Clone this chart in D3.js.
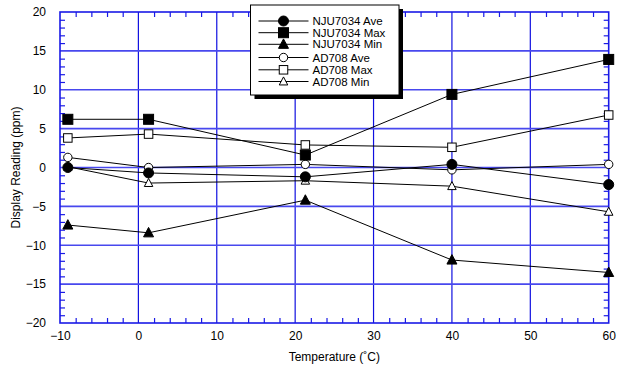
<!DOCTYPE html>
<html><head><meta charset="utf-8">
<script src="https://cdn.jsdelivr.net/npm/d3@7"></script>
<style>body{margin:0;background:#fff}svg{display:block}text{font-family:"Liberation Sans",Arial,sans-serif}</style>
</head><body><svg id="c" width="618" height="367"></svg>
<script>
const temps = [-9, 1.3, 21.3, 40, 60];
const njuAve = [0.0, -0.7, -1.2, 0.4, -2.2];
const njuMax = [6.2, 6.2, 1.6, 9.4, 13.9];
const njuMin = [-7.4, -8.4, -4.2, -11.9, -13.5];
const adAve = [1.3, 0.0, 0.4, -0.3, 0.4];
const adMax = [3.8, 4.3, 2.9, 2.6, 6.75];
const adMin = [0.1, -2.0, -1.7, -2.4, -5.7];
const seriesNames = ["NJU7034 Ave","NJU7034 Max","NJU7034 Min","AD708 Ave","AD708 Max","AD708 Min"];
const xTicks = [-10,0,10,20,30,40,50,60];
const yTicks = [-20,-15,-10,-5,0,5,10,15,20];

const series = [
  {name: seriesNames[0], vals: njuAve, shape: "circle", fill: true},
  {name: seriesNames[1], vals: njuMax, shape: "square", fill: true},
  {name: seriesNames[2], vals: njuMin, shape: "triangle", fill: true},
  {name: seriesNames[3], vals: adAve, shape: "circle", fill: false},
  {name: seriesNames[4], vals: adMax, shape: "square", fill: false},
  {name: seriesNames[5], vals: adMin, shape: "triangle", fill: false}
];

const svg = d3.select("#c");
const L = 60, R = 608.7, T = 12, B = 323;
const x = d3.scaleLinear().domain([-10,60]).range([L,R]);
const y = d3.scaleLinear().domain([-20,20]).range([B,T]);
const blue = "#1a1ae6";
const FS = 12;

// grid
svg.append("g").selectAll("line").data(xTicks.slice(1,-1)).join("line")
  .attr("x1", d=>x(d)).attr("x2", d=>x(d)).attr("y1", T).attr("y2", B)
  .attr("stroke", "#1010e0").attr("stroke-width", 1.2);
svg.append("g").selectAll("line").data(yTicks.slice(1,-1)).join("line")
  .attr("x1", L).attr("x2", R).attr("y1", d=>y(d)).attr("y2", d=>y(d))
  .attr("stroke", "#4848ee").attr("stroke-width", 1.6);

// minor ticks
const xMinor = d3.range(-10, 61, 2).filter(v => v % 10 !== 0);
const yMinor = d3.range(-20, 21, 1).filter(v => v % 5 !== 0);
function minorAxis(ax, tr) {
  const g = svg.append("g").attr("transform", tr).call(ax);
  g.select(".domain").remove();
  g.selectAll("text").remove();
  g.selectAll("line").attr("stroke", blue).attr("stroke-width", 1.2);
}
minorAxis(d3.axisBottom(x).tickValues(xMinor).tickSize(-5), `translate(0,${B})`);
minorAxis(d3.axisTop(x).tickValues(xMinor).tickSize(-5), `translate(0,${T})`);
minorAxis(d3.axisLeft(y).tickValues(yMinor).tickSize(-5), `translate(${L},0)`);
minorAxis(d3.axisRight(y).tickValues(yMinor).tickSize(-5), `translate(${R},0)`);

// tick labels
const gx = svg.append("g").attr("transform", `translate(0,${B})`)
  .call(d3.axisBottom(x).tickValues(xTicks).tickSize(0).tickPadding(8).tickFormat(d3.format("d")));
gx.select(".domain").remove();
gx.selectAll("text").attr("font-size", FS).attr("fill", "#000").attr("font-family", "Liberation Sans, Arial, sans-serif");
const gy = svg.append("g").attr("transform", `translate(${L},0)`)
  .call(d3.axisLeft(y).tickValues(yTicks).tickSize(0).tickPadding(14).tickFormat(d3.format("d")));
gy.select(".domain").remove();
gy.selectAll("text").attr("font-size", FS).attr("fill", "#000").attr("font-family", "Liberation Sans, Arial, sans-serif");

// frame
svg.append("rect").attr("x", L).attr("y", T).attr("width", R-L).attr("height", B-T)
  .attr("fill", "none").attr("stroke", blue).attr("stroke-width", 1.6);

// axis titles
svg.append("text").attr("x", (L+R)/2).attr("y", 361).attr("text-anchor", "middle")
  .attr("font-size", FS).text("Temperature (˚C)");
svg.append("text").attr("transform", `translate(20,${(T+B)/2}) rotate(-90)`).attr("text-anchor", "middle")
  .attr("font-size", FS).text("Display Reading (ppm)");

// markers
function marker(g, shape, fill, cx, cy) {
  const big = fill;
  const st = {fill: fill ? "#000" : "#fff", stroke: "#000", sw: 1};
  if (shape === "circle") {
    g.append("circle").attr("cx", cx).attr("cy", cy).attr("r", big ? 5 : 4.2)
      .attr("fill", st.fill).attr("stroke", st.stroke).attr("stroke-width", st.sw);
  } else if (shape === "square") {
    const s = big ? 10 : 8.5;
    g.append("rect").attr("x", cx - s/2).attr("y", cy - s/2).attr("width", s).attr("height", s)
      .attr("fill", st.fill).attr("stroke", st.stroke).attr("stroke-width", st.sw);
  } else {
    const s = big ? 10 : 8.5;
    const h = s * 0.9;
    g.append("path").attr("d", `M${cx},${cy - h*0.6}L${cx + s/2},${cy + h*0.45}L${cx - s/2},${cy + h*0.45}Z`)
      .attr("fill", st.fill).attr("stroke", st.stroke).attr("stroke-width", st.sw);
  }
}

const line = d3.line().x(d=>x(d[0])).y(d=>y(d[1]));
const dataG = svg.append("g");
series.forEach(s => {
  const pts = temps.map((t,i)=>[t, s.vals[i]]);
  dataG.append("path").attr("d", line(pts)).attr("fill", "none").attr("stroke", "#000").attr("stroke-width", 1);
});
[3,4,5,0,1,2].forEach(k => {
  const s = series[k];
  temps.forEach((t,i) => marker(dataG, s.shape, s.fill, x(t), y(s.vals[i])));
});

// legend
const lg = svg.append("g");
const lx = 250.5, ly = 5, lw = 148.5, lh = 90;
lg.append("rect").attr("x", lx + 4).attr("y", ly + 4).attr("width", lw).attr("height", lh).attr("fill", "#000");
lg.append("rect").attr("x", lx).attr("y", ly).attr("width", lw).attr("height", lh)
  .attr("fill", "#fff").attr("stroke", "#000").attr("stroke-width", 1);
const rowY = [21, 32.7, 44.3, 57.5, 69.8, 81.5];
series.forEach((s, i) => {
  const yy = rowY[i];
  lg.append("line").attr("x1", 258.5).attr("x2", 308.5).attr("y1", yy).attr("y2", yy)
    .attr("stroke", "#000").attr("stroke-width", 1);
  marker(lg, s.shape, s.fill, 283.5, yy);
  lg.append("text").attr("x", 312.5).attr("y", yy + 4.1).attr("font-size", 11.5)
    .attr("textLength", null).text(s.name);
});
</script></body></html>
